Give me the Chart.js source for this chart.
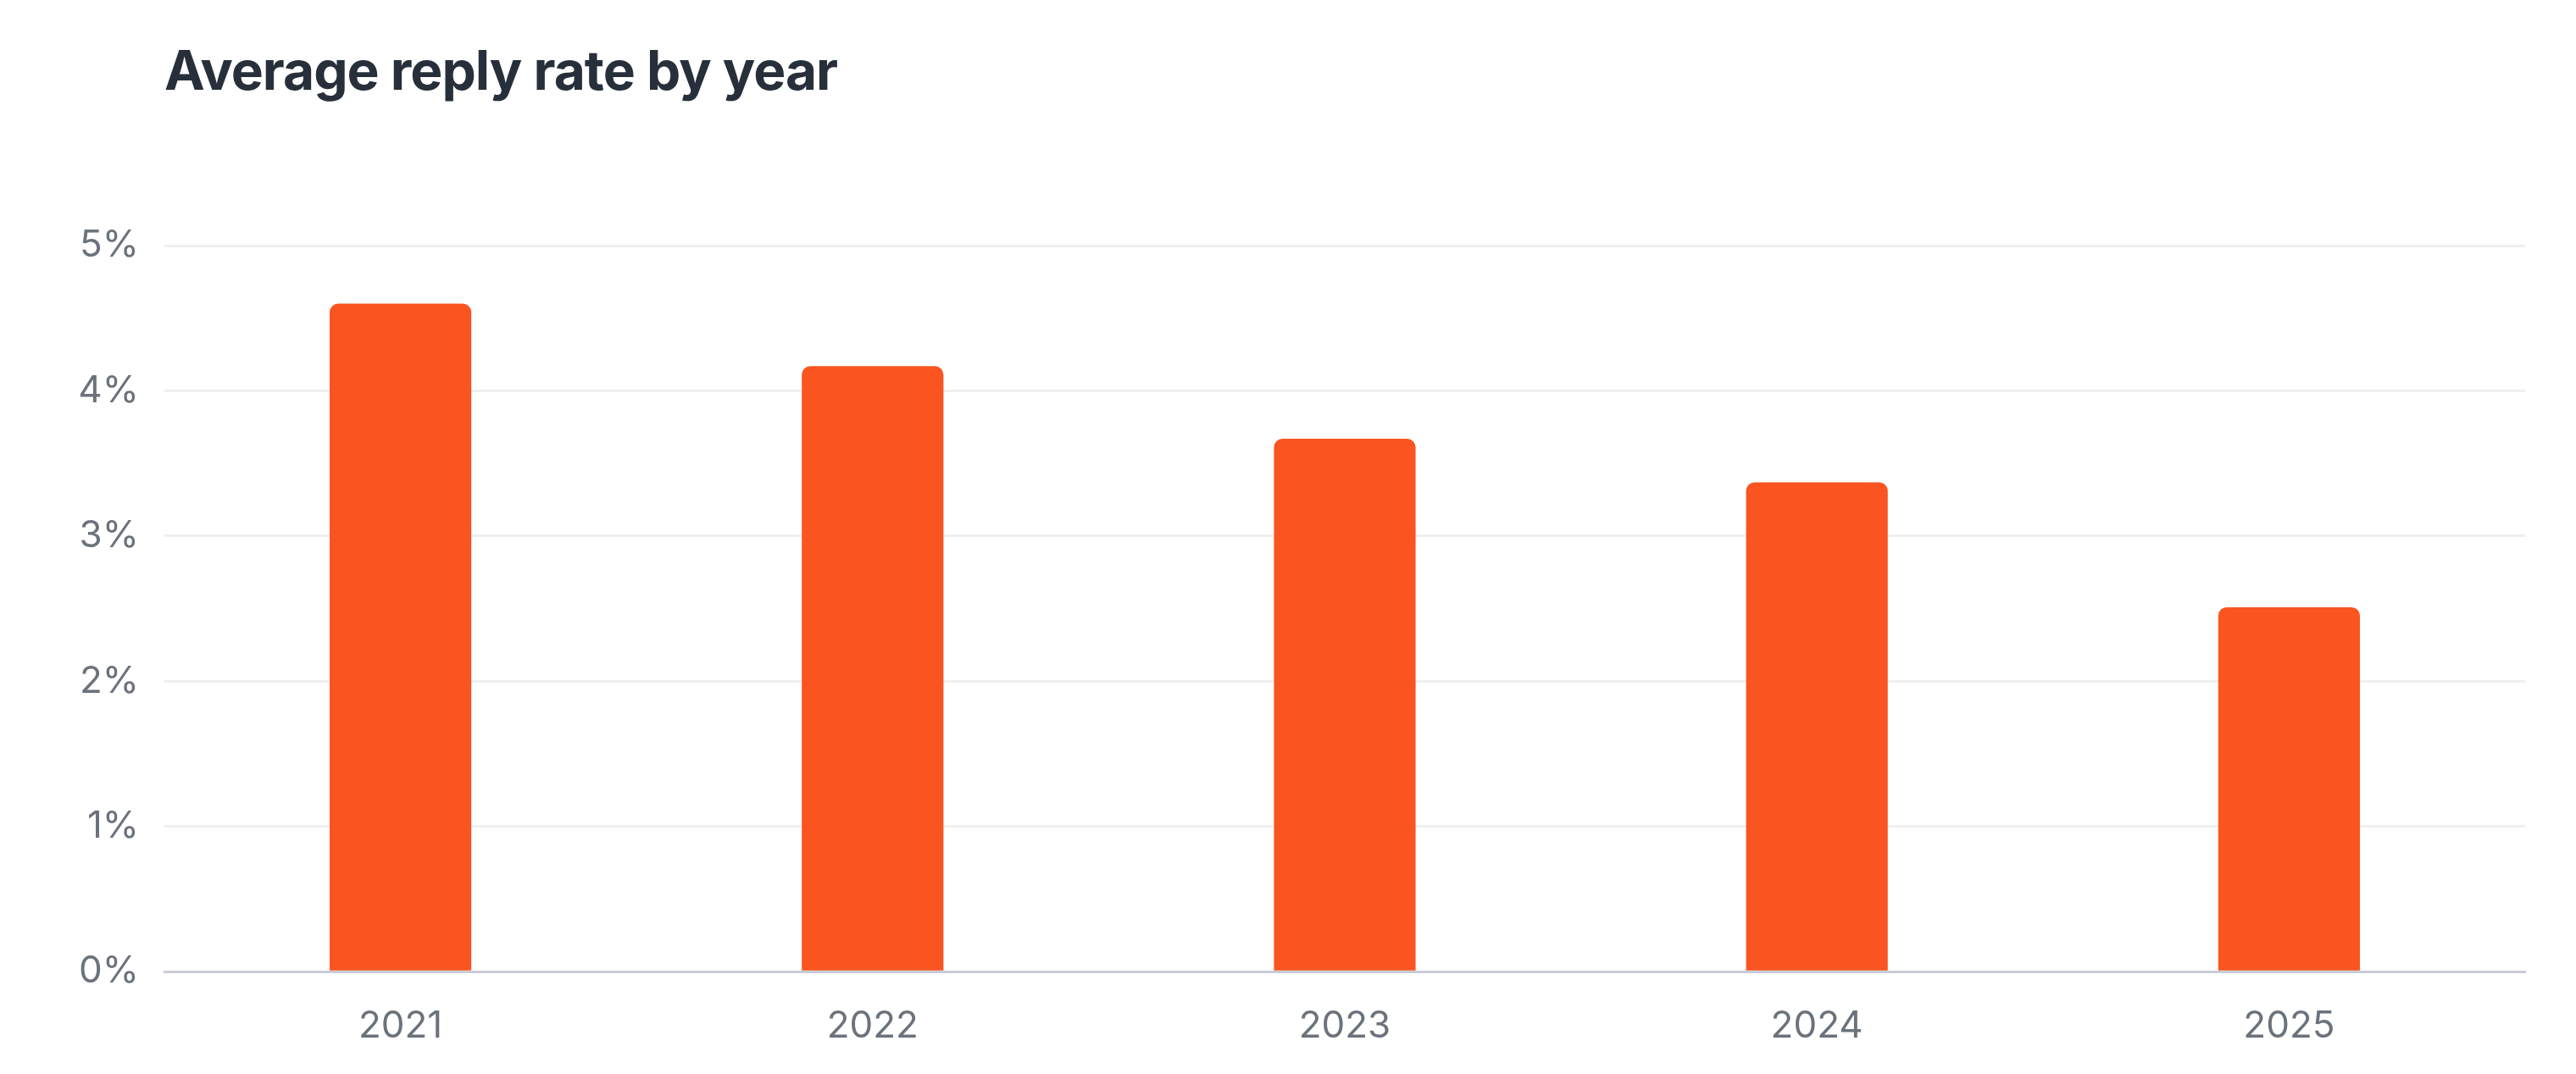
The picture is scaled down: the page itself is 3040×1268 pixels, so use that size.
<!DOCTYPE html>
<html>
<head>
<meta charset="utf-8">
<script src="https://cdn.jsdelivr.net/npm/chart.js@4"></script>
<style>
  html, body { margin: 0; padding: 0; background: #fff; }
  #wrap { position: relative; width: 3040px; height: 1268px; }
  #title {
    position: absolute; left: 194px; top: 44px; margin: 0;
    font-family: Inter, "Noto Sans", sans-serif; font-weight: 700;
    font-size: 64px; letter-spacing: -1px; color: #27303a;
  }
  canvas { position: absolute; left: 0; top: 0; }
</style>
</head>
<body>
<div id="wrap">
  <h1 id="title">Average reply rate by year</h1>
  <canvas id="chart" width="3040" height="1268"></canvas>
</div>
<script>
// dados
const years = ['2021', '2022', '2023', '2024', '2025'];
const replyRate = [4.6, 4.17, 3.67, 3.37, 2.51];
const yTicks = [0, 1, 2, 3, 4, 5];

const FONT = 'Inter, "Noto Sans", sans-serif';

new Chart(document.getElementById('chart'), {
    type: 'bar',
    data: {
        labels: years,
        datasets: [{
            data: replyRate,
            backgroundColor: '#fa5421',
            borderRadius: { topLeft: 10, topRight: 10 },
            borderSkipped: 'bottom',
            barPercentage: 0.3,
            categoryPercentage: 1
        }]
    },
    options: {
        responsive: false,
        animation: false,
        devicePixelRatio: 1,
        layout: { padding: { top: 290, right: 60, bottom: 0, left: 0 } },
        plugins: { legend: { display: false }, tooltip: { enabled: false } },
        scales: {
            x: {
                grid: { display: false },
                border: { color: '#c9cbd6', width: 3 },
                ticks: { color: '#6b727b', font: { family: FONT, size: 44 }, padding: 30 }
            },
            y: {
                min: 0, max: 5,
                afterBuildTicks: s => { s.ticks = yTicks.map(v => ({ value: v })); },
                afterFit: s => { s.width = 194; },
                grid: { color: '#eeeff2', lineWidth: 3, drawTicks: false },
                border: { display: false },
                ticks: {
                    color: '#6b727b', font: { family: FONT, size: 44 }, padding: 30,
                    callback: v => v + '%'
                }
            }
        }
    }
});
</script>
</body>
</html>
